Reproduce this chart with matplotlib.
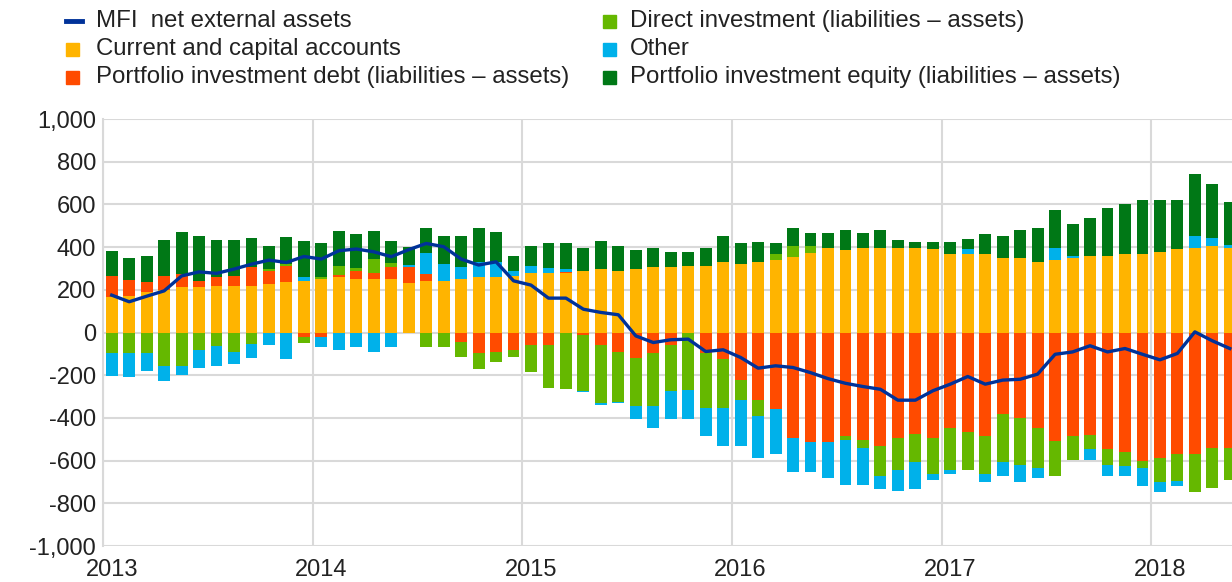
import matplotlib.pyplot as plt
import numpy as np
from matplotlib.patches import Rectangle
from matplotlib.lines import Line2D
from matplotlib.ticker import FuncFormatter

plt.rcParams['font.family'] = ['Liberation Sans', 'DejaVu Sans']

# monthly data, Jan 2013 - May 2018 (EUR bn, 12-month cumulated flows)
years = ['2013', '2014', '2015', '2016', '2017', '2018']

current = [164, 169, 189, 198, 211, 211, 219, 219, 219, 228, 235, 239,
           250, 258, 250, 250, 250, 230, 239, 239, 250, 258, 258, 266,
           277, 277, 277, 286, 297, 286, 297, 305, 305, 312, 312, 331,
           320, 331, 341, 352, 372, 398, 387, 398, 398, 398, 398, 389,
           369, 369, 369, 350, 350, 331, 341, 348, 358, 358, 369, 369,
           378, 389, 395, 405, 397]
pi_debt = [102, 77, 47, 67, 62, 28, 39, 47, 86, 59, 75, -20,
           -23, 11, 37, 27, 55, 78, 37, 0, -44, -98, -89, -81,
           -58, -58, 8, -10, -58, -90, -120, -98, -60, 0, -98, -125,
           -222, -316, -359, -492, -511, -511, -484, -503, -531, -492, -477, -494,
           -447, -467, -486, -384, -402, -448, -506, -486, -478, -544, -561, -600,
           -589, -569, -569, -542, -542]
direct = [-98, -98, -98, -156, -156, -81, -62, -91, -52, 9, 10, -27,
          8, 44, 17, 67, 20, 0, -70, -70, -73, -73, -47, -36,
          -128, -200, -266, -266, -274, -236, -223, -245, -215, -269, -255, -228,
          -94, -75, 27, 55, 34, 0, -19, -37, -141, -152, -130, -170,
          -198, -178, -177, -223, -217, -189, -167, -112, -66, -75, -66, -37,
          -112, -125, -178, -186, -147]
other = [-105, -112, -84, -73, -45, -83, -94, -55, -66, -59, -125, 19,
         -47, -80, -70, -89, -70, 8, 95, 84, 55, 73, 73, 20,
         36, 27, 12, -5, -6, -6, -62, -102, -131, -138, -131, -178,
         -216, -195, -208, -161, -142, -169, -213, -175, -62, -100, -128, -27,
         -17, 20, -37, -66, -81, -44, 55, 9, -55, -55, -47, -83,
         -45, -27, 56, 39, 11]
pi_equity = [114, 102, 121, 170, 200, 214, 177, 169, 139, 109, 125, 169,
             159, 161, 159, 130, 102, 83, 119, 130, 148, 159, 141, 73,
             94, 114, 120, 112, 130, 120, 91, 92, 73, 66, 86, 122,
             97, 95, 50, 84, 58, 66, 94, 66, 83, 36, 28, 36,
             56, 47, 94, 102, 131, 158, 180, 152, 180, 227, 234, 252,
             242, 231, 292, 253, 205]
mfi = [175, 144, 170, 195, 265, 284, 277, 297, 320, 339, 328, 356,
       344, 383, 391, 378, 355, 388, 417, 402, 344, 316, 331, 242,
       222, 161, 161, 109, 94, 83, -16, -47, -34, -31, -89, -81,
       -117, -167, -156, -164, -188, -216, -238, -253, -266, -317, -317, -273,
       -242, -206, -242, -223, -219, -195, -102, -91, -62, -91, -75, -102,
       -128, -98, 3, -39, -75]

labels = ['MFI  net external assets', 'Current and capital accounts',
          'Portfolio investment debt (liabilities \u2013 assets)',
          'Direct investment (liabilities \u2013 assets)', 'Other',
          'Portfolio investment equity (liabilities \u2013 assets)']
colors = ['#FFB400', '#FF4B00', '#65B800', '#00B1EA', '#007816']
blue = '#003299'
grid_col = '#d9d9d9'

W, H = 1232, 582
fig = plt.figure(figsize=(W/100, H/100), dpi=100)
ax = fig.add_axes([103/W, (H-546)/H, (W-103)/W, 427/H])

n = len(current)
x = np.arange(n) + 0.5
pos = np.zeros(n)
neg = np.zeros(n)
for vals, c in zip([current, pi_debt, direct, other, pi_equity], colors):
    v = np.array(vals, float)
    p = np.where(v > 0, v, 0)
    q = np.where(v < 0, v, 0)
    ax.bar(x, p, 0.68, bottom=pos, color=c, linewidth=0)
    ax.bar(x, q, 0.68, bottom=neg, color=c, linewidth=0)
    pos += p
    neg += q

ax.plot(x, mfi, color=blue, lw=2.4, solid_joinstyle='round', zorder=5)

ax.set_xlim(0, (W-103)/17.47)
ax.set_ylim(-1000, 1000)
ax.set_yticks(range(-1000, 1001, 200))
ax.yaxis.set_major_formatter(FuncFormatter(lambda v, p: f'{v:,.0f}'))
ax.set_xticks(np.arange(len(years))*12 + 0.5)
ax.set_xticklabels(years)
ax.set_xticks(np.arange(len(years))*12, minor=True)
ax.set_axisbelow(True)
ax.yaxis.grid(True, color=grid_col, lw=1.5)
ax.xaxis.grid(True, which='minor', color=grid_col, lw=1.5)
ax.tick_params(which='both', length=0, labelsize=17, colors='#222222')
ax.tick_params(axis='y', pad=5)
ax.tick_params(axis='x', pad=9)
for s in ['top', 'right', 'bottom']:
    ax.spines[s].set_visible(False)
ax.spines['left'].set_color(grid_col)
ax.spines['left'].set_linewidth(1.5)

# legend drawn by hand, two columns
rows = [21, 49, 77]
cols = [(66, 96), (603, 630)]
for k, lab in enumerate(labels):
    cx, tx = cols[k // 3]
    yc = rows[k % 3]
    if k == 0:
        fig.add_artist(Line2D([cx/W, (cx+16)/W], [1-yc/H, 1-yc/H],
                              color=blue, lw=3.5, transform=fig.transFigure))
    else:
        fig.add_artist(Rectangle((cx/W, 1-(yc+7)/H), 13/W, 13/H,
                                 color=colors[k-1], transform=fig.transFigure))
    fig.text(tx/W, 1-yc/H, lab, fontsize=17.3, va='center', ha='left',
             color='#222222')

fig.savefig('out.png', dpi=100)
